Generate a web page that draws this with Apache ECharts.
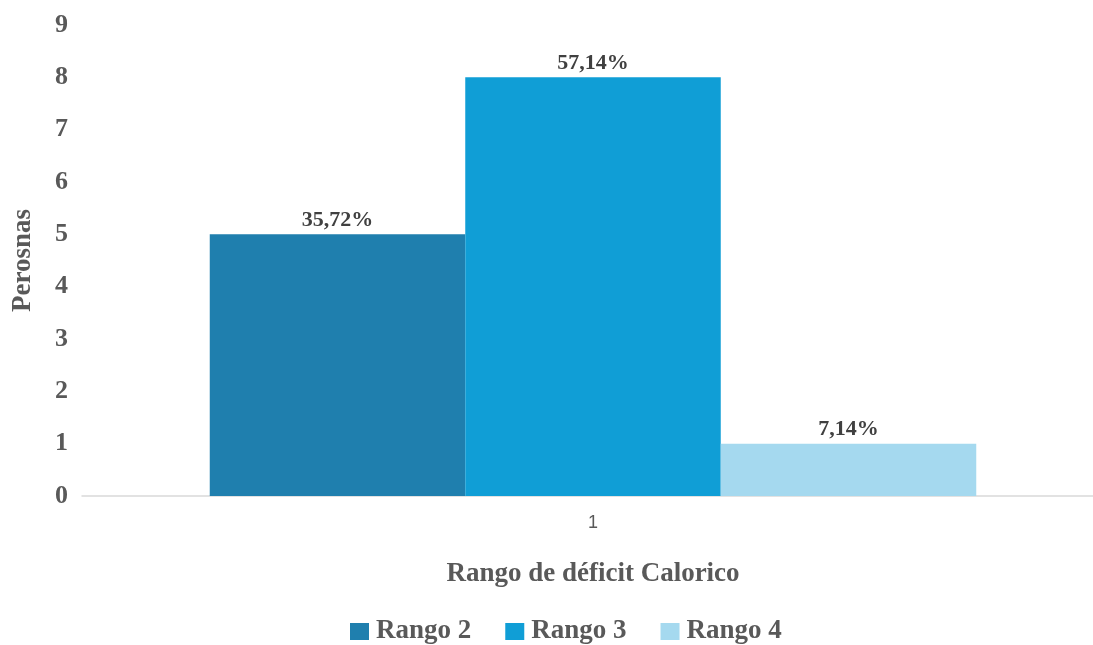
<!DOCTYPE html>
<html>
<head>
<meta charset="utf-8">
<script src="https://cdn.jsdelivr.net/npm/echarts@6/dist/echarts.min.js"></script>
<style>
  html, body { margin: 0; padding: 0; background: #ffffff; overflow: hidden; }
  /* the plot area runs a little past the right edge of the page */
  #chart { width: 1104px; height: 645px; }
</style>
</head>
<body>
<div id="chart"></div>
<script>
// Persons per calorie-deficit range, with each range's share of the total
const categories = ['1'];
const seriesNames = ['Rango 2', 'Rango 3', 'Rango 4'];
const personCounts = [5, 8, 1];
const shareLabels = ['35,72%', '57,14%', '7,14%'];
const seriesColors = ['#1f7fae', '#109ed6', '#a5d9ef'];
const yTicks = { min: 0, max: 9, interval: 1 };

const serif = '"Liberation Serif", "DejaVu Serif", serif';
const textGray = '#595959';

const chart = echarts.init(document.getElementById('chart'), null, { renderer: 'canvas' });

const series = seriesNames.map((name, i) => ({
  name: name,
  type: 'bar',
  data: [personCounts[i]],
  barGap: '0%',
  barCategoryGap: '25%',
  itemStyle: { color: seriesColors[i] },
  label: {
    show: true,
    position: 'top',
    distance: 3,
    formatter: () => shareLabels[i],
    fontFamily: serif,
    fontWeight: 'bold',
    fontSize: 22,
    color: '#404040'
  }
}));

chart.setOption({
  backgroundColor: '#ffffff',
  animation: false,
  grid: { left: 82, right: 0, top: 25, height: 471, containLabel: false },
  legend: {
    data: seriesNames,
    top: 613,
    left: 345,
    itemWidth: 19,
    itemHeight: 17,
    itemGap: 34,
    icon: 'rect',
    textStyle: { fontFamily: serif, fontWeight: 'bold', fontSize: 27, color: textGray, padding: [0, 0, 0, 2] }
  },
  xAxis: {
    type: 'category',
    data: categories,
    name: 'Rango de déficit Calorico',
    nameLocation: 'middle',
    nameGap: 65,
    nameTextStyle: { fontFamily: serif, fontWeight: 'bold', fontSize: 27, color: textGray },
    axisLine: { lineStyle: { color: '#d9d9d9', width: 1.5 } },
    axisTick: { show: false },
    axisLabel: { fontFamily: '"Liberation Sans", Arial, sans-serif', fontSize: 18, color: textGray, margin: 18 }
  },
  yAxis: {
    type: 'value',
    min: yTicks.min,
    max: yTicks.max,
    interval: yTicks.interval,
    name: 'Perosnas',
    nameLocation: 'middle',
    nameGap: 45,
    nameRotate: 90,
    nameTextStyle: { fontFamily: serif, fontWeight: 'bold', fontSize: 27, color: textGray },
    axisLine: { show: false },
    axisTick: { show: false },
    splitLine: { show: false },
    axisLabel: { fontFamily: serif, fontWeight: 'bold', fontSize: 26, color: textGray, margin: 14 }
  },
  series: series
});
</script>
</body>
</html>
